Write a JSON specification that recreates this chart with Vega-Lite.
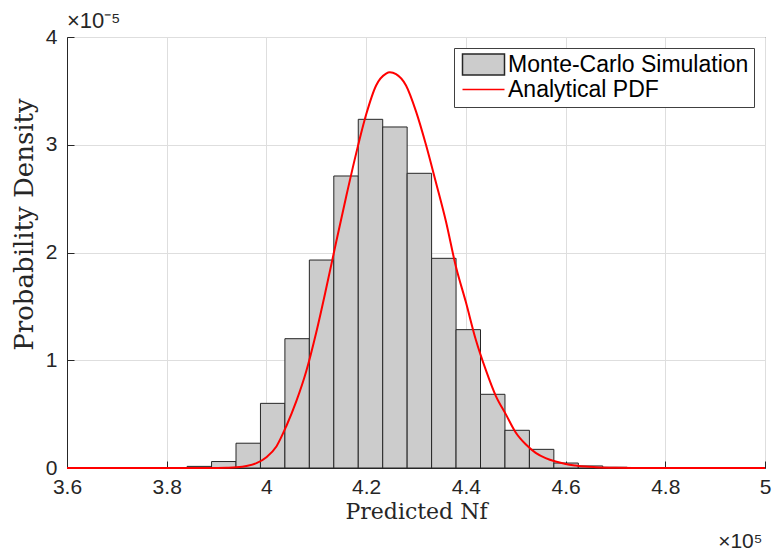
{
  "$schema": "https://vega.github.io/schema/vega-lite/v6.json",
  "width": 698,
  "height": 431,
  "autosize": {"type": "none"},
  "padding": {"left": 67, "top": 37, "right": 8, "bottom": 85},
  "background": "white",
  "title": {
    "text": "×10⁻⁵",
    "anchor": "start",
    "frame": "group",
    "offset": 9,
    "dy": 33,
    "baseline": "alphabetic",
    "font": "Liberation Sans",
    "fontSize": 22,
    "fontWeight": "normal",
    "color": "#262626"
  },
  "config": {
    "view": {"stroke": "#262626", "strokeWidth": 1},
    "axis": {
      "labelFont": "Liberation Sans",
      "labelFontSize": 21,
      "labelColor": "#262626",
      "domainColor": "#262626",
      "tickColor": "#262626",
      "tickSize": -7,
      "gridColor": "#dedede",
      "gridWidth": 1,
      "labelFlush": false,
      "labelOverlap": false,
      "labelBound": false
    },
    "legend": {
      "orient": "top-right",
      "offset": 11,
      "padding": 5,
      "strokeColor": "#404040",
      "fillColor": "white",
      "labelFont": "Liberation Sans",
      "labelFontSize": 23,
      "labelColor": "#000000",
      "labelLimit": 400,
      "labelOffset": 13,
      "symbolOffset": 13,
      "symbolSize": 441,
      "symbolStrokeWidth": 1.5,
      "rowPadding": 0
    }
  },
  "layer": [
    {
      "data": {
        "values": [
          {"bin_start": 384090, "bin_end": 388994, "density": 1.5e-7},
          {"bin_start": 388994, "bin_end": 393898, "density": 6.0e-7},
          {"bin_start": 393898, "bin_end": 398802, "density": 2.3e-6},
          {"bin_start": 398802, "bin_end": 403706, "density": 6.0e-6},
          {"bin_start": 403706, "bin_end": 408610, "density": 1.20e-5},
          {"bin_start": 408610, "bin_end": 413514, "density": 1.93e-5},
          {"bin_start": 413514, "bin_end": 418418, "density": 2.71e-5},
          {"bin_start": 418418, "bin_end": 423322, "density": 3.236e-5},
          {"bin_start": 423322, "bin_end": 428226, "density": 3.165e-5},
          {"bin_start": 428226, "bin_end": 433130, "density": 2.735e-5},
          {"bin_start": 433130, "bin_end": 438034, "density": 1.946e-5},
          {"bin_start": 438034, "bin_end": 442938, "density": 1.284e-5},
          {"bin_start": 442938, "bin_end": 447842, "density": 6.84e-6},
          {"bin_start": 447842, "bin_end": 452746, "density": 3.5e-6},
          {"bin_start": 452746, "bin_end": 457650, "density": 1.73e-6},
          {"bin_start": 457650, "bin_end": 462554, "density": 4.6e-7},
          {"bin_start": 462554, "bin_end": 467458, "density": 1.9e-7},
          {"bin_start": 467458, "bin_end": 472362, "density": 7e-8}
        ]
      },
      "mark": {"type": "bar", "strokeWidth": 1},
      "encoding": {
        "x": {
          "field": "bin_start",
          "type": "quantitative",
          "scale": {"domain": [360000, 500000], "nice": false, "zero": false},
          "axis": {
            "values": [360000, 380000, 400000, 420000, 440000, 460000, 480000, 500000],
            "labelExpr": "format(datum.value / 100000, '.1~f')",
            "labelPadding": 15,
            "grid": true,
            "title": "Predicted Nf",
            "titleFont": "DejaVu Serif",
            "titleFontSize": 22,
            "titleFontWeight": "normal",
            "titleColor": "#262626",
            "titleX": 349,
            "titleY": 50,
            "titleAlign": "center",
            "titleBaseline": "alphabetic"
          }
        },
        "x2": {"field": "bin_end"},
        "y": {
          "field": "density",
          "type": "quantitative",
          "scale": {"domain": [0, 0.00004], "nice": false},
          "axis": {
            "values": [0, 0.00001, 0.00002, 0.00003, 0.00004],
            "labelExpr": "'' + round(datum.value * 100000)",
            "labelPadding": 17,
            "grid": true,
            "title": "Probability Density",
            "titleFont": "DejaVu Serif",
            "titleFontSize": 26,
            "titleFontWeight": "normal",
            "titleColor": "#262626",
            "titleX": -43,
            "titleY": 187,
            "titleAngle": -90,
            "titleAlign": "center",
            "titleBaseline": "middle"
          }
        },
        "y2": {"datum": 0},
        "color": {
          "datum": "Monte-Carlo Simulation",
          "scale": {"domain": ["Monte-Carlo Simulation", "Analytical PDF"], "range": ["#cccccc", "transparent"]},
          "legend": {"title": null}
        },
        "stroke": {
          "datum": "Monte-Carlo Simulation",
          "scale": {"domain": ["Monte-Carlo Simulation", "Analytical PDF"], "range": ["#262626", "#ff0000"]},
          "legend": {"title": null}
        }
      }
    },
    {
      "data": {
        "values": [
          {"x": 360000, "pdf": 0},
          {"x": 380000, "pdf": 0},
          {"x": 388000, "pdf": 0},
          {"x": 390000, "pdf": 5e-9},
          {"x": 392000, "pdf": 2e-8},
          {"x": 394000, "pdf": 6e-8},
          {"x": 396000, "pdf": 1.8e-7},
          {"x": 398000, "pdf": 4.5e-7},
          {"x": 400000, "pdf": 1.0e-6},
          {"x": 402000, "pdf": 2.0e-6},
          {"x": 404000, "pdf": 3.9e-6},
          {"x": 406000, "pdf": 6.2e-6},
          {"x": 408000, "pdf": 9.0e-6},
          {"x": 410000, "pdf": 1.26e-5},
          {"x": 412000, "pdf": 1.67e-5},
          {"x": 414000, "pdf": 2.10e-5},
          {"x": 416000, "pdf": 2.52e-5},
          {"x": 418000, "pdf": 2.92e-5},
          {"x": 420000, "pdf": 3.28e-5},
          {"x": 422000, "pdf": 3.55e-5},
          {"x": 424000, "pdf": 3.66e-5},
          {"x": 424750, "pdf": 3.672e-5},
          {"x": 426000, "pdf": 3.655e-5},
          {"x": 428000, "pdf": 3.55e-5},
          {"x": 430000, "pdf": 3.31e-5},
          {"x": 432000, "pdf": 3.00e-5},
          {"x": 434000, "pdf": 2.65e-5},
          {"x": 436000, "pdf": 2.29e-5},
          {"x": 438000, "pdf": 1.87e-5},
          {"x": 440000, "pdf": 1.54e-5},
          {"x": 442000, "pdf": 1.19e-5},
          {"x": 444000, "pdf": 9.1e-6},
          {"x": 446000, "pdf": 6.7e-6},
          {"x": 448000, "pdf": 5.0e-6},
          {"x": 450000, "pdf": 3.3e-6},
          {"x": 452000, "pdf": 2.2e-6},
          {"x": 454000, "pdf": 1.41e-6},
          {"x": 456000, "pdf": 9.2e-7},
          {"x": 458000, "pdf": 6.0e-7},
          {"x": 460000, "pdf": 3.7e-7},
          {"x": 462000, "pdf": 2.3e-7},
          {"x": 464000, "pdf": 1.3e-7},
          {"x": 466000, "pdf": 8e-8},
          {"x": 470000, "pdf": 3e-8},
          {"x": 476000, "pdf": 5e-9},
          {"x": 500000, "pdf": 0}
        ]
      },
      "mark": {"type": "line", "strokeWidth": 2, "interpolate": "monotone"},
      "encoding": {
        "x": {
          "field": "x",
          "type": "quantitative",
          "scale": {"domain": [360000, 500000], "nice": false, "zero": false},
          "axis": {
            "orient": "bottom",
            "title": "×10⁵",
            "labels": false,
            "ticks": false,
            "domain": false,
            "grid": false,
            "titleX": 695,
            "titleY": 79,
            "titleAlign": "right",
            "titleBaseline": "alphabetic",
            "titleFont": "Liberation Sans",
            "titleFontSize": 21,
            "titleFontWeight": "normal",
            "titleColor": "#262626"
          }
        },
        "y": {"field": "pdf", "type": "quantitative"},
        "stroke": {"datum": "Analytical PDF", "legend": {"title": null}}
      }
    },
    {
      "data": {"values": []},
      "mark": {"type": "point", "filled": true},
      "encoding": {
        "shape": {
          "field": "series",
          "type": "nominal",
          "scale": {"domain": ["Monte-Carlo Simulation", "Analytical PDF"], "range": ["M-2,-1H2V1H-2Z", "M-2,0H2"]},
          "legend": {"title": null}
        }
      }
    }
  ],
  "resolve": {"axis": {"x": "independent"}}
}
